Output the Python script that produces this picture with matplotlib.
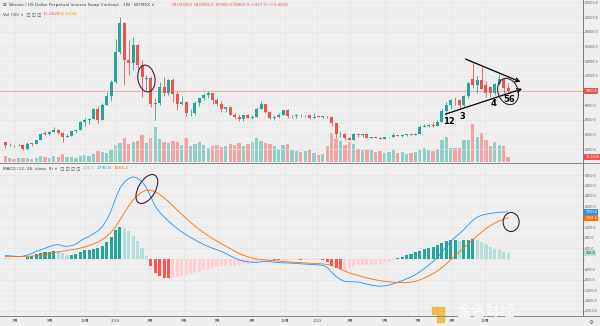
import numpy as np
import matplotlib.pyplot as plt
import matplotlib.transforms as mtransforms
from matplotlib.patches import Ellipse

plt.rcParams['font.family'] = ['DejaVu Sans', 'Noto Sans CJK SC']

# weekly XBTUSD candles, 2017-06-12 .. 2019-08-19
opens = [2900, 2500, 2550, 2500, 2510, 1950, 2750, 2740, 3250, 4100, 4080, 4350, 4600, 4200, 3700, 3800,
         4400, 4600, 5700, 6000, 6150, 7400, 5950, 8000, 9300, 11200, 15200, 19200, 14100,
         13700, 16200, 13500, 11600, 11750, 8200, 8300, 10400, 9600, 11400, 9500, 8200, 8450, 6850,
         6900, 8300, 8900, 9400, 9650, 8700, 8200, 7400, 7700, 6700, 6400, 6100, 6600, 6300, 6400,
         7400, 8200, 7000, 6300, 6400, 6700, 7300, 6500, 6520, 6700, 6600, 6640, 6300, 6420, 6400,
         6420, 6380, 5600, 4000, 4100, 3500, 3200, 4000, 3900,
         4000, 3550, 3600, 3550, 3400, 3650, 3670, 3850, 3830, 3900, 4000, 3950, 4100, 5050, 5100,
         5300, 5200, 5750, 7200, 8000, 8750, 8650, 8000, 9200, 11500, 10800, 11450, 10700, 10400,
         9600, 10850, 11500, 10318]
highs = [2980, 2780, 2600, 2650, 2540, 2900, 2820, 3300, 4200, 4480, 4400, 4980, 4750, 4300, 4100, 4450,
         4600, 5850, 6200, 6200, 7600, 7880, 8300, 9800, 11400, 17000, 20000, 19300, 16900,
         17300, 16300, 14100, 12100, 11900, 9000, 11200, 11800, 11500, 11700, 9900, 9200, 8500, 7500,
         8500, 9000, 9700, 9950, 9700, 8900, 8500, 7800, 7800, 6900, 6800, 6600, 6800, 6700, 7700,
         8500, 8200, 7150, 6600, 6900, 7300, 7400, 6600, 6800, 6800, 6700, 6700, 6900, 6500, 6500,
         6550, 6400, 5600, 4400, 4200, 3600, 4200, 4250, 4100,
         4100, 3700, 3650, 3600, 3700, 3700, 4200, 3950, 3950, 4050, 4050, 4150, 5300, 5450, 5350,
         5650, 5900, 7500, 8350, 8800, 9100, 8800, 9400, 11200, 13880, 12000, 13200, 11300, 10650,
         11000, 12300, 11600, 10959.5]
lows = [2100, 2450, 2300, 2480, 1850, 1900, 2450, 2650, 3230, 3900, 3900, 4300, 4100, 3000, 3600, 3800,
        4200, 4600, 5100, 5400, 6100, 5500, 5900, 8000, 8600, 11000, 15000, 10700, 12100,
        12800, 12800, 9100, 10000, 7700, 5960, 8000, 9300, 9400, 8400, 7300, 8000, 6500, 6500,
        6600, 7900, 8700, 9000, 8100, 7900, 7100, 7100, 6600, 6100, 5800, 5800, 6300, 6100, 6400,
        7400, 6900, 6100, 5900, 6300, 6700, 6200, 6200, 6200, 6400, 6400, 6100, 6300, 6350, 6300,
        6300, 5200, 3500, 3600, 3300, 3200, 3200, 3600, 3650,
        3500, 3500, 3450, 3350, 3350, 3550, 3650, 3750, 3700, 3800, 3900, 3900, 4100, 4950, 5000,
        5050, 5150, 5650, 6600, 7500, 8000, 7500, 7800, 9000, 10300, 9700, 10300, 9100, 9150,
        9400, 10800, 9400, 9766]
closes = [2500, 2550, 2500, 2510, 1950, 2750, 2740, 3250, 4100, 4080, 4350, 4600, 4200, 3700, 3800, 4400,
          4600, 5700, 6000, 6150, 7400, 5950, 8000, 9300, 11200, 15200, 19200, 14100, 13700,
          16200, 13500, 11800, 11750, 8200, 8300, 10400, 9600, 11400, 9500, 8200, 8450, 6850, 6900,
          8300, 8900, 9400, 9650, 8700, 8200, 7400, 7700, 6700, 6400, 6100, 6600, 6300, 6400, 7400,
          8200, 7000, 6300, 6400, 6700, 7300, 6500, 6520, 6700, 6600, 6640, 6300, 6420, 6400, 6420,
          6380, 5600, 4000, 4100, 3500, 3200, 4000, 3900, 4000,
          3550, 3600, 3550, 3400, 3650, 3670, 3850, 3830, 3900, 4000, 3950, 4100, 5050, 5100, 5300,
          5200, 5750, 7200, 8000, 8700, 8650, 8000, 9200, 11000, 10800, 11450, 10200, 9600, 9650,
          10850, 11550, 10318, 9960.5]
# weekly volume, billions
volume = [14, 9, 7, 8, 10, 9, 7, 10, 14, 12, 10, 13, 12, 18, 12, 11, 10, 14, 16, 14, 18, 24, 22, 20,
          26, 38, 42, 55, 40, 45, 48, 60, 42, 55, 78, 52, 45, 42, 48, 45, 38, 55, 35, 40, 45, 38,
          32, 36, 38, 34, 36, 40, 38, 42, 36, 40, 45, 55, 48, 42, 40, 35, 30, 38, 40, 28, 25, 22,
          25, 28, 20, 15, 18, 35, 65, 52, 48, 38, 45, 40, 30, 28, 30, 26, 22, 24, 20, 22, 28, 20,
          22, 18, 20, 22, 27, 32, 28, 25, 30, 49, 56, 32, 32, 32, 50, 50, 86, 56, 65, 50, 36, 45,
          38, 36, 11.2628]

# MACD (12, 26, close, 9)
macd = [120, 110, 95, 70, 95, 140, 200, 280, 340, 400, 460, 520, 540, 490, 470, 500, 560, 680, 780,
        850, 960, 1060, 1230, 1480, 1840, 2300, 2700, 2930, 3070, 3130, 3080, 2950, 2720, 2360,
        2000, 1780, 1600, 1440, 1290, 1150, 1030, 920, 815, 720, 630, 545, 470, 400, 340, 280, 200,
        110, 30, -40, -90, -120, -135, -140, -120, -105, -112, -130, -150, -160, -165, -170, -180,
        -195, -205, -215, -225, -235, -250, -330, -520, -680, -800, -870, -880, -885, -890, -930,
        -975, -1010, -1040, -1050, -1040, -1010, -960, -900, -840, -770, -700, -610, -500, -380,
        -250, -110, 50, 250, 470, 660, 820, 960, 1120, 1290, 1470, 1590, 1660, 1700, 1730, 1755,
        1775, 1785, 1790.8]
signal = [80, 85, 88, 88, 88, 92, 100, 115, 135, 160, 190, 225, 260, 290, 315, 340, 370, 405, 450,
          505, 570, 640, 730, 850, 1010, 1220, 1480, 1760, 2020, 2250, 2420, 2550, 2620, 2620, 2560,
          2460, 2330, 2180, 2020, 1860, 1700, 1545, 1395, 1255, 1120, 995, 880, 770, 670, 575, 480,
          385, 290, 200, 130, 70, 25, -10, -35, -50, -62, -75, -90, -105, -118, -130, -140, -150,
          -160, -170, -180, -190, -200, -220, -260, -320, -395, -470, -540, -595, -640, -690, -735,
          -775, -810, -840, -865, -885, -900, -910, -915, -910, -895, -865, -810, -740, -660, -570,
          -465, -340, -195, -40, 115, 265, 415, 570, 730, 880, 1020, 1150, 1265, 1365, 1445, 1510,
          1564.2]

xtick_pos = [2.2, 10.1, 18.1, 24.9, 32.8, 40.5, 48.0, 55.9, 63.4, 70.7, 78.2, 86.1, 93.6, 101.3, 108.8]
xtick_lab = ['7月', '9月', '11月', '2018', '3月', '5月', '7月', '9月', '11月', '2019',
             '3月', '5月', '7月', '9月', '11月']

UP, DN = '#26a69a', '#ef5350'
BG, GRID = '#eeeeee', '#e2e2e2'

o, h, l, c = map(np.array, (opens, highs, lows, closes))
vol = np.array(volume)
m, s = np.array(macd), np.array(signal)
hist = m - s
x = np.arange(len(c))
up = c >= o
col = np.where(up, UP, DN)

fig = plt.figure(figsize=(6, 3.26), dpi=100, facecolor=BG)
ax = fig.add_axes([0, 0.5031, 0.9717, 0.4969])
axm = fig.add_axes([0, 0.0307, 0.9717, 0.4693], sharex=ax)
axv = ax.twinx()

# volume underneath the candles
axv.bar(x, vol, width=0.75, color=np.where(up, '#8fcfc8', '#f2a3a2'), zorder=1)
axv.set_ylim(0, 365)
axv.set_yticks([])
axv.set_facecolor(BG)
ax.set_zorder(2)
ax.patch.set_visible(False)
axv.set_zorder(1)

ax.vlines(x, l, h, color=col, lw=0.6, zorder=3)
ax.bar(x, np.maximum(np.abs(c - o), 40), bottom=np.minimum(o, c), width=0.68, color=col, zorder=4)
ax.axhline(closes[-1], color='#f2a0a0', lw=0.6, zorder=2)
ax.set_xlim(-1.2, 131.0)
ax.set_ylim(232, 22333)

# MACD panel
prev = np.concatenate([[hist[0]], hist[:-1]])
hcol = np.where(hist >= 0, np.where(hist > prev, UP, '#b2dfdb'),
                np.where(hist < prev, '#ff5252', '#ffcdd2'))
axm.bar(x, hist, width=0.7, color=hcol, zorder=2)
axm.plot(x, m, color='#2196f3', lw=0.6, zorder=3)
axm.plot(x, s, color='#ff6d00', lw=0.6, zorder=3)
axm.set_ylim(-2191, 3660)
axm.set_facecolor(BG)

for a in (ax, axm):
    a.yaxis.tick_right()
    a.tick_params(axis='y', labelsize=2.3, colors='#555555', length=1, width=0.4, pad=0.5)
    a.tick_params(axis='x', length=0)
    a.grid(True, color=GRID, lw=0.4)
    a.set_axisbelow(True)
    for sp in ('top', 'left', 'bottom'):
        a.spines[sp].set_visible(False)
    a.spines['right'].set_color('#666666')
    a.spines['right'].set_linewidth(0.6)
axv.spines[:].set_visible(False)


def price_fmt(v, pos):
    # the last-price tag sits over the 10000 level
    return '' if abs(v - 10000) < 1 else '%.1f' % v


def macd_fmt(v, pos):
    # value tags cover the 1600 and 0 levels
    return '' if abs(v - 1600) < 1 or abs(v) < 1 else '%.1f' % v


ax.set_yticks(np.arange(2000, 22001, 2000))
ax.yaxis.set_major_formatter(plt.FuncFormatter(price_fmt))
axm.set_yticks(np.arange(-2000, 3201, 400))
axm.yaxis.set_major_formatter(plt.FuncFormatter(macd_fmt))
axm.set_xticks(xtick_pos)
axm.set_xticklabels(xtick_lab, fontsize=3, color='#555555',
                    family=['Noto Sans CJK SC', 'DejaVu Sans'])
axm.tick_params(axis='x', pad=2)
plt.setp(ax.get_xticklabels(), visible=False)

# panel separators
fig.add_artist(plt.Line2D([0, 1], [0.5015, 0.5015], color='#888888', lw=0.7))
fig.add_artist(plt.Line2D([0, 1], [0.0307, 0.0307], color='#888888', lw=0.7))


def tag(a, val, txt, fc, tc='white'):
    tr = mtransforms.blended_transform_factory(a.transAxes, a.transData)
    a.text(1.004, val, txt, transform=tr, fontsize=2.4, color=tc, va='center', ha='left',
           bbox=dict(boxstyle='square,pad=0.35', fc=fc, ec='none'), zorder=10, clip_on=False)


tag(ax, closes[-1], '9960.5', DN)
tag(axv, volume[-1], '11.2628', DN)
tag(axm, macd[-1], '1790.8', '#2196f3')
tag(axm, signal[-1], '1564.2', '#ff6d00')
tag(axm, hist[-1], '226.6', '#b2dfdb', '#333333')


def px(xp, yp):
    return xp / 600, 1 - yp / 326


# legend rows
fig.text(*px(3, 5), '⊟  Bitcoin / US Dollar Perpetual Inverse Swap Contract · 1W · BITMEX ∨',
         fontsize=3.1, color='#444444', va='center')
for xp, t in [(172, 'O10318.0'), (194, 'H10959.5'), (216, 'L9766.0'), (233, 'C9960.5'),
              (251, '−357.5 (−3.46%)')]:
    fig.text(*px(xp, 5), t, fontsize=3.1, color=DN, va='center')
fig.text(*px(3, 14), 'Vol (30) ∨  ◫ ◫ ◫', fontsize=3.1, color='#444444', va='center')
fig.text(*px(42, 14), '11.2628', fontsize=3.1, color=DN, va='center')
fig.text(*px(60, 14), '25.6158', fontsize=3.1, color='#ff9800', va='center')
fig.text(*px(3, 168), 'MACD (12, 26, close, 9) ∨  ◫ ◫ ◫ ◫', fontsize=3.1, color='#444444', va='center')
fig.text(*px(83, 168), '226.6', fontsize=3.1, color='#80cbc4', va='center')
fig.text(*px(97, 168), '1790.8', fontsize=3.1, color='#2196f3', va='center')
fig.text(*px(113, 168), '1564.2', fontsize=3.1, color='#ff6d00', va='center')
fig.text(*px(591, 322), '⚙', fontsize=4, color='#555555', ha='center', va='center')

# watermark
fig.add_artist(plt.Rectangle(px(437, 322), 0.012, 0.045, color='#f2b233', alpha=0.8))
fig.add_artist(plt.Rectangle(px(432, 314), 0.008, 0.022, color='#f2b233', alpha=0.8))
fig.text(*px(457, 312), '金色财经', fontsize=10.5, color='white', alpha=0.85, va='center',
         family=['Noto Sans CJK SC'])

# hand-drawn triangle
arrow = dict(arrowstyle='->', lw=0.9, color='black', mutation_scale=7)
ax.annotate('', xy=(117.4, 11010), xytext=(103.8, 14420), arrowprops=arrow, zorder=6)
ax.annotate('', xy=(117.8, 10330), xytext=(99.2, 6640), arrowprops=arrow, zorder=6)
for xi, yv, t in [(100.6, 5810, '12'), (103.6, 6500, '3'), (110.6, 8145, '4'), (114.2, 8690, '56')]:
    ax.text(xi, yv, t, fontsize=6, fontweight='bold', ha='center', va='center', zorder=7)


def ring(a, xc, yc, w, hgt, ang):
    tr = fig.dpi_scale_trans + mtransforms.ScaledTranslation(xc, yc, a.transData)
    a.add_patch(Ellipse((0, 0), w / 100, hgt / 100, angle=ang, transform=tr, fill=False,
                        ec='#3b2040', lw=0.8, zorder=8, clip_on=False))


ring(ax, 32.0, 11620, 17, 27, 10)
ring(ax, 114.0, 9850, 20, 27, 20)
ring(axm, 32.1, 2665, 17, 32, -30)
ring(axm, 114.7, 1403, 16, 19, 0)

fig.savefig('out.png', dpi=100, facecolor=BG)
